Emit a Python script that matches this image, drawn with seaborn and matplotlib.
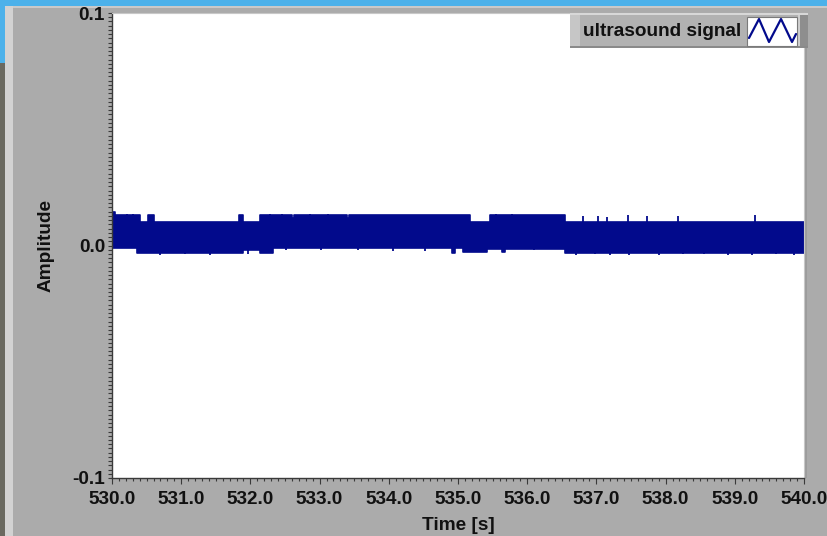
import matplotlib
matplotlib.use("Agg")
import matplotlib.pyplot as plt
from matplotlib.patches import Rectangle
from matplotlib.ticker import MultipleLocator, FormatStrFormatter
import pandas as pd
import seaborn as sns

# band envelope of the ultrasound signal
# (each value holds from its time until the next one)
top_t = [530.00, 530.04, 530.40, 530.52, 530.61, 531.83, 531.90, 532.14, 532.60, 532.63,
         533.40, 533.43, 535.17, 535.46, 536.55, 540.00]
top_v = [0.0145, 0.0131, 0.0103, 0.0131, 0.0103, 0.0131, 0.0103, 0.0131, 0.0118, 0.0131,
         0.0120, 0.0131, 0.0103, 0.0131, 0.0103, 0.0103]
bot_t = [530.00, 530.36, 531.90, 532.14, 532.33, 534.91, 534.96, 535.07, 535.42, 535.64,
         535.68, 536.55, 540.00]
bot_v = [-0.0012, -0.0034, -0.0020, -0.0034, -0.0012, -0.0032, -0.0012, -0.0030, -0.0014,
         -0.0030, -0.0015, -0.0034, -0.0034]

# short spikes sticking out of the band
spike_up_t = [530.22, 530.30, 532.28, 532.45, 532.86, 533.12, 535.55, 535.78,
              536.81, 537.02, 537.15, 537.46, 537.73, 538.18, 539.29]
spike_up_v = [0.0137, 0.0136, 0.0137, 0.0136, 0.0136, 0.0137, 0.0136, 0.0137,
              0.0125, 0.0128, 0.0122, 0.0130, 0.0128, 0.0125, 0.0131]
spike_dn_t = [530.70, 531.05, 531.42, 531.97, 532.52, 533.02, 533.55, 534.06, 534.52,
              536.10, 536.70, 536.98, 537.20, 537.47, 537.90, 538.25, 538.55, 538.90,
              539.25, 539.60, 539.85]
spike_dn_v = [-0.0040, -0.0038, -0.0039, -0.0036, -0.0018, -0.0019, -0.0018, -0.0025, -0.0024,
              -0.0020, -0.0039, -0.0038, -0.0039, -0.0042, -0.0039, -0.0038, -0.0038, -0.0039,
              -0.0039, -0.0038, -0.0039]

xticks = [530.0, 531.0, 532.0, 533.0, 534.0, 535.0, 536.0, 537.0, 538.0, 539.0, 540.0]
yticks = [-0.1, 0.0, 0.1]
series_name = "ultrasound signal"

sig_col = "#020a8c"
panel = "#ababab"
ink = "#111111"

sns.set_style("white")
plt.rcParams["font.family"] = ["Liberation Sans", "DejaVu Sans"]
plt.rcParams["font.weight"] = "bold"

W, H = 827, 536
fig = plt.figure(figsize=(W / 100, H / 100), dpi=100)
fig.patch.set_facecolor(panel)

# screenshot surroundings (pixel coordinates)
bg = fig.add_axes([0, 0, 1, 1], zorder=-5)
bg.set_xlim(0, W)
bg.set_ylim(H, 0)
bg.axis("off")
bg.add_patch(Rectangle((0, 0), W, 6, color="#4cb1ea", lw=0))
bg.add_patch(Rectangle((0, 6), W, 2, color="#c9c9c9", lw=0))
bg.add_patch(Rectangle((0, 0), 5, 63, color="#4cb1ea", lw=0))
bg.add_patch(Rectangle((0, 63), 5, H - 63, color="#6a6960", lw=0))
bg.add_patch(Rectangle((5, 6), 8, H - 6, color="#d2d2d2", lw=0))
bg.add_patch(Rectangle((804, 13), 3, 465, color="#9c9c9c", lw=0))

ax = fig.add_axes([112 / W, 58 / H, 692 / W, 465 / H])
ax.set_facecolor("white")

top = pd.DataFrame({"t": top_t, "v": top_v})
bot = pd.DataFrame({"t": bot_t, "v": bot_v})
ax.fill_between(top_t, top_v, 0, step="post", color=sig_col, lw=0)
ax.fill_between(bot_t, bot_v, 0, step="post", color=sig_col, lw=0)
sns.lineplot(data=top, x="t", y="v", ax=ax, color=sig_col, lw=1.2, drawstyle="steps-post")
sns.lineplot(data=bot, x="t", y="v", ax=ax, color=sig_col, lw=1.2, drawstyle="steps-post")
ax.vlines(spike_up_t, 0, spike_up_v, color=sig_col, lw=1.3)
ax.vlines(spike_dn_t, spike_dn_v, 0, color=sig_col, lw=1.3)

ax.set_xlim(530.0, 540.0)
ax.set_ylim(-0.1, 0.1)
ax.set_xticks(xticks)
ax.set_yticks(yticks)
ax.xaxis.set_major_formatter(FormatStrFormatter("%.1f"))
ax.yaxis.set_major_formatter(FormatStrFormatter("%.1f"))
ax.xaxis.set_minor_locator(MultipleLocator(0.1))
ax.yaxis.set_minor_locator(MultipleLocator(0.1 / 55))
ax.tick_params(which="both", direction="out", color="#3a3a3a", width=0.8,
               labelsize=13.7, labelcolor=ink, bottom=True, left=True)
ax.tick_params(axis="x", which="major", length=4, pad=5)
ax.tick_params(axis="x", which="minor", length=2.5)
ax.tick_params(axis="y", which="both", length=3, pad=2)
for lab in ax.get_xticklabels() + ax.get_yticklabels():
    lab.set_fontweight("bold")
ax.set_xlabel("Time [s]", fontsize=13.7, fontweight="bold", color=ink, labelpad=7)
ax.set_ylabel("Amplitude", fontsize=13.7, fontweight="bold", color=ink, labelpad=13)
for side in ["left", "bottom"]:
    ax.spines[side].set_color("#3a3a3a")
    ax.spines[side].set_linewidth(1.0)
for side in ["top", "right"]:
    ax.spines[side].set_color("#c8c8c8")
    ax.spines[side].set_linewidth(0.8)

# LabVIEW style plot legend, drawn on an overlay in pixel coordinates
ov = fig.add_axes([0, 0, 1, 1], zorder=10)
ov.set_xlim(0, W)
ov.set_ylim(H, 0)
ov.axis("off")
ov.patch.set_alpha(0)
ov.add_patch(Rectangle((570, 13), 238, 35, color="#b2b2b2", lw=0))
ov.add_patch(Rectangle((570, 13), 238, 2, color="#d8d8d8", lw=0))
ov.add_patch(Rectangle((570, 46), 238, 2, color="#8a8a8a", lw=0))
ov.add_patch(Rectangle((570, 15), 10, 31, color="#c6c6c6", lw=0))
ov.add_patch(Rectangle((798, 15), 10, 31, color="#8e8e8e", lw=0))
ov.add_patch(Rectangle((798, 15), 2, 31, color="#cfcfcf", lw=0))
ov.add_patch(Rectangle((747, 17), 50, 29, facecolor="white", edgecolor="#7a7a7a", lw=0.8))
ov.plot([749, 759, 769, 781, 792, 796], [38, 19, 42, 19, 42, 34], color=sig_col, lw=1.6)
ov.text(583, 32, series_name, fontsize=13.7, fontweight="bold", color=ink,
        ha="left", va="center")

fig.savefig("out.png", dpi=100, facecolor=fig.get_facecolor())
